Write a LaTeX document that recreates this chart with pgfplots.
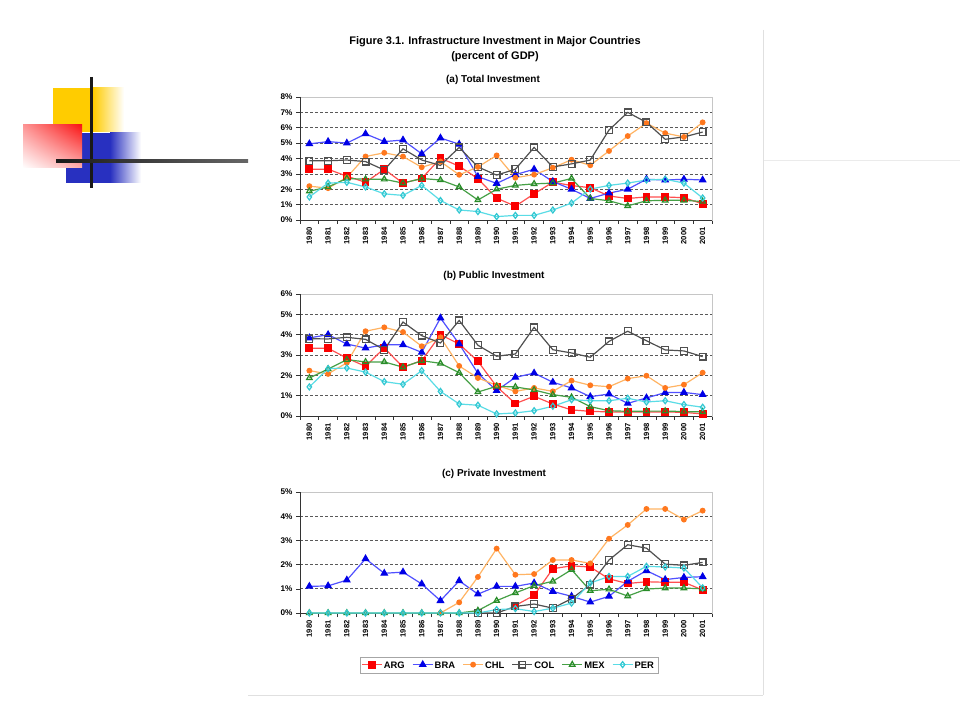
\documentclass[border=0pt]{standalone}
\usepackage{pgfplots}
\usepackage{pgfplotstable}
\pgfplotsset{compat=1.18}
\usetikzlibrary{shadings}
\usepackage{fontspec}
\setmainfont{Liberation Sans}

\definecolor{argline}{RGB}{255,80,80}
\definecolor{argmark}{RGB}{250,0,0}
\definecolor{braline}{RGB}{80,80,255}
\definecolor{bramark}{RGB}{0,0,230}
\definecolor{chlline}{RGB}{255,180,100}
\definecolor{chlmark}{RGB}{255,120,30}
\definecolor{colc}{RGB}{80,80,80}
\definecolor{mexline}{RGB}{70,160,70}
\definecolor{mexmark}{RGB}{40,140,40}
\definecolor{perline}{RGB}{90,220,230}
\definecolor{permark}{RGB}{50,200,210}
\definecolor{decoyel}{RGB}{255,204,0}
\definecolor{decored}{RGB}{250,20,20}
\definecolor{decoblu}{RGB}{40,48,192}

% (a) total investment, % of GDP
\pgfplotstableread{
year ARG BRA CHL COL MEX PER
1980 3.30 4.95 2.20 3.85 1.87 1.50
1981 3.30 5.10 2.07 3.85 2.15 2.40
1982 2.85 5.00 2.77 3.90 2.70 2.45
1983 2.45 5.60 4.13 3.80 2.65 2.15
1984 3.30 5.10 4.37 3.25 2.65 1.70
1985 2.40 5.20 4.13 4.63 2.40 1.60
1986 2.70 4.30 3.43 3.90 2.70 2.25
1987 4.02 5.33 3.80 3.55 2.60 1.27
1988 3.50 4.93 2.94 4.72 2.15 0.65
1989 2.69 2.82 3.45 3.45 1.30 0.55
1990 1.42 2.38 4.20 2.92 2.00 0.22
1991 0.90 2.95 2.75 3.30 2.25 0.30
1992 1.70 3.30 2.95 4.72 2.35 0.30
1993 2.46 2.50 3.40 3.45 2.40 0.65
1994 2.24 2.00 3.92 3.65 2.70 1.10
1995 2.10 1.40 3.56 3.90 1.40 2.01
1996 1.56 1.75 4.49 5.85 1.25 2.25
1997 1.40 2.00 5.46 7.00 0.92 2.40
1998 1.50 2.65 6.30 6.35 1.25 2.60
1999 1.50 2.60 5.65 5.25 1.28 2.65
2000 1.45 2.65 5.40 5.40 1.28 2.40
2001 1.05 2.60 6.35 5.72 1.20 1.43
}\tA

% (b) public investment
\pgfplotstableread{
year ARG BRA CHL COL MEX PER
1980 3.33 3.84 2.23 3.80 1.87 1.43
1981 3.33 4.00 2.07 3.79 2.31 2.33
1982 2.85 3.54 2.62 3.87 2.77 2.36
1983 2.44 3.34 4.17 3.77 2.66 2.16
1984 3.35 3.50 4.36 3.26 2.66 1.69
1985 2.40 3.50 4.13 4.62 2.40 1.56
1986 2.72 3.13 3.43 3.95 2.72 2.23
1987 4.00 4.82 3.87 3.59 2.59 1.21
1988 3.54 3.54 2.46 4.70 2.13 0.59
1989 2.69 2.10 1.87 3.48 1.18 0.53
1990 1.45 1.25 1.51 2.94 1.46 0.10
1991 0.61 1.90 1.21 3.05 1.43 0.15
1992 0.97 2.11 1.38 4.36 1.28 0.26
1993 0.59 1.66 1.21 3.26 1.05 0.48
1994 0.30 1.38 1.74 3.10 0.92 0.80
1995 0.23 0.95 1.51 2.89 0.46 0.75
1996 0.20 1.08 1.44 3.67 0.26 0.75
1997 0.20 0.62 1.84 4.17 0.23 0.87
1998 0.20 0.89 1.98 3.70 0.24 0.69
1999 0.20 1.15 1.38 3.25 0.24 0.75
2000 0.18 1.16 1.54 3.20 0.22 0.56
2001 0.10 1.05 2.13 2.92 0.20 0.43
}\tB

% (c) private investment
\pgfplotstableread{
year ARG BRA CHL COL MEX PER
1980 nan 1.10 nan nan 0 0
1981 nan 1.12 nan nan 0 0
1982 nan 1.36 nan nan 0 0
1983 nan 2.24 nan nan 0 0
1984 nan 1.64 nan nan 0 0
1985 nan 1.69 nan nan 0 0
1986 nan 1.20 nan nan 0 0
1987 nan 0.51 0 nan 0 0
1988 nan 1.33 0.44 nan 0 0
1989 nan 0.78 1.49 0 0.10 0
1990 nan 1.10 2.66 0 0.51 0.14
1991 0.31 1.10 1.58 0.27 0.83 0.18
1992 0.73 1.24 1.61 0.37 1.13 0.06
1993 1.83 0.89 2.19 0.20 1.31 0.20
1994 1.95 0.69 2.19 0.59 1.79 0.41
1995 1.90 0.45 2.05 1.17 0.92 1.24
1996 1.41 0.69 3.07 2.19 0.98 1.51
1997 1.22 1.31 3.64 2.82 0.70 1.51
1998 1.29 1.75 4.30 2.68 0.99 1.93
1999 1.27 1.38 4.30 2.02 1.03 1.90
2000 1.27 1.47 3.86 1.97 1.03 1.86
2001 0.95 1.50 4.23 2.09 1.00 1.04
}\tC

\pgfplotsset{
  panel/.style={
    scale only axis, width=412pt, anchor=south west, clip=false,
    xmin=1979.5, xmax=2001.5, ymin=0,
    xtick={1980,...,2001},
    minor xtick={1979.5,1980.5,...,2001.5},
    major x tick style={draw=none},
    tick style={black!80, line width=0.6pt},
    major tick length=4pt, minor tick length=4pt,
    tick align=outside, tick pos=left,
    /pgf/number format/assume math mode=true,
    xticklabel style={rotate=90, anchor=east, font=\bfseries\fontsize{7.6}{8}\selectfont,
      /pgf/number format/1000 sep={}},
    yticklabel={\pgfmathprintnumber{\tick}\%},
    yticklabel style={font=\bfseries\fontsize{8.2}{9}\selectfont},
    axis line style={gray!45, line width=0.8pt},
    ymajorgrids, grid style={black!65, dash pattern=on 3pt off 2pt, line width=0.7pt},
    every axis plot/.append style={line width=1.2pt},
    unbounded coords=discard,
  },
  arg/.style={argline, mark=square*, mark size=3.3pt, mark options={solid, fill=argmark, draw=argmark}},
  bra/.style={braline, mark=triangle*, mark size=3.5pt, mark options={solid, fill=bramark, draw=bramark}},
  chl/.style={chlline, mark=*, mark size=2.3pt, mark options={solid, fill=chlmark, draw=chlmark}},
  col/.style={colc, mark=square, mark size=3.4pt, mark options={solid, fill=white, draw=colc}},
  mex/.style={mexline, mark=triangle, mark size=3.2pt, mark options={solid, fill=white, draw=mexmark}},
  per/.style={perline, mark=diamond, mark size=3pt, mark options={solid, fill=white, draw=permark}},
}

\newcommand{\frameaxis}{%
  \draw[white, line width=1.4pt] (rel axis cs:0,1) -- (rel axis cs:1,1);
  \draw[gray!45, line width=0.8pt] (rel axis cs:0,1) -- (rel axis cs:1,1);
  \draw[black!80, line width=0.8pt] (rel axis cs:0,1) -- (rel axis cs:0,0) -- (rel axis cs:1,0);}

\newcommand{\allseries}[1]{%
  \addplot[arg] table[x=year, y=ARG] {#1};
  \addplot[bra] table[x=year, y=BRA] {#1};
  \addplot[chl] table[x=year, y=CHL] {#1};
  \addplot[col] table[x=year, y=COL] {#1};
  \addplot[mex] table[x=year, y=MEX] {#1};
  \addplot[per] table[x=year, y=PER] {#1};}

\begin{document}
\begin{tikzpicture}
\begin{scope}[x=1pt, y=1pt]
\path[use as bounding box, fill=white] (0,0) rectangle (960,720);

% slide decoration
\fill[decoyel] (53,632) rectangle (93,588);
\shade[left color=decoyel, right color=white] (93,632) rectangle (124,588);
\fill[decoblu] (66,587) rectangle (110,537);
\shade[left color=decoblu, right color=white] (110,587) rectangle (141,537);
\shade[upper left=decored!45, upper right=decored, lower left=white, lower right=decored!35]
  (23,552) rectangle (82,595);
\draw[black!90, line width=3pt] (91,643) -- (91,532);
\shade[left color=black!90, right color=black!60] (56,557.5) rectangle (248,560.5);
\draw[black!8, line width=1pt] (763,559) -- (960,559);

% figure page edges
\draw[black!12, line width=1pt] (763,690) -- (763,25);
\draw[black!12, line width=1pt] (248,25) -- (763,25);

% titles
\node[font=\bfseries\fontsize{11}{13}\selectfont] at (495,678) {Figure 3.1. Infrastructure Investment in Major Countries};
\node[font=\bfseries\fontsize{11}{13}\selectfont] at (495,663) {(percent of GDP)};
\node[font=\bfseries\fontsize{10}{12}\selectfont] at (493,640) {(a) Total Investment};
\node[font=\bfseries\fontsize{10}{12}\selectfont] at (494,444) {(b) Public Investment};
\node[font=\bfseries\fontsize{10}{12}\selectfont] at (494,246) {(c) Private Investment};
\end{scope}

\begin{axis}[panel, at={(300pt,500pt)}, height=123pt, ymax=8, ytick={0,...,8}]
\frameaxis
\allseries{\tA}
\end{axis}

\begin{axis}[panel, at={(300pt,304pt)}, height=122pt, ymax=6, ytick={0,...,6}]
\frameaxis
\allseries{\tB}
\end{axis}

\begin{axis}[panel, at={(300pt,107pt)}, height=121pt, ymax=5, ytick={0,...,5},
  legend columns=6,
  legend style={at={(0.507,-0.434)}, anchor=center, draw=gray!70, line width=0.6pt,
    font=\bfseries\fontsize{9.4}{10}\selectfont, inner sep=2pt,
    cells={anchor=base west},
    /tikz/every even column/.append style={column sep=6pt}},
  legend image code/.code={%
    \path[draw=none, fill=none] (0pt,-0.5pt) rectangle (20pt,7pt);
    \draw[overlay, mark repeat=2, mark phase=2] plot coordinates {(0pt,3.4pt) (10pt,3.4pt) (20pt,3.4pt)};}]
\frameaxis
\allseries{\tC}
\legend{ARG, BRA, CHL, COL, MEX, PER}
\end{axis}
\end{tikzpicture}
\end{document}
